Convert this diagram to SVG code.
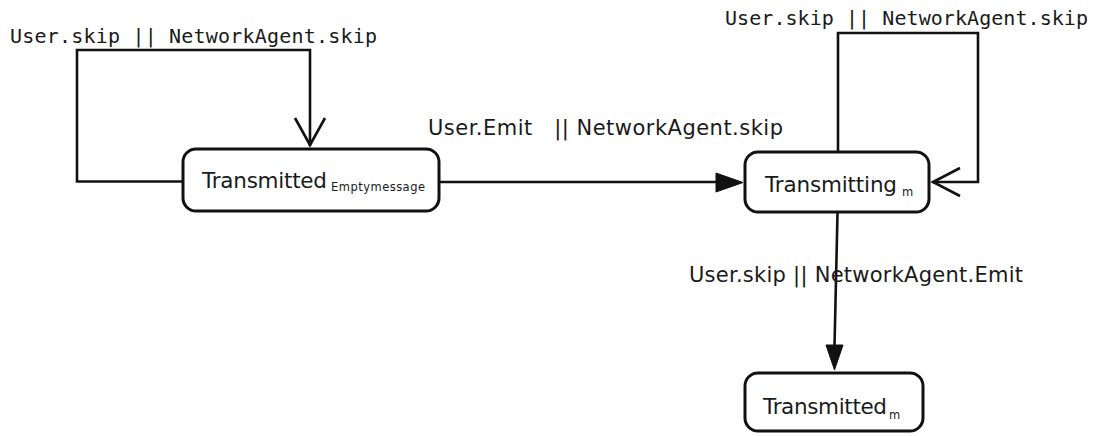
<svg xmlns="http://www.w3.org/2000/svg" width="1102" height="436" viewBox="0 0 1102 436">
  <defs>
    <style>
      .node { fill: #ffffff; stroke: #111111; stroke-width: 3; }
      .name { font-family: "DejaVu Sans", Verdana, sans-serif; font-size: 21.5px; fill: #1a1a1a; }
      .sub { font-family: "DejaVu Sans", Verdana, sans-serif; font-size: 11.5px; fill: #1a1a1a; }
      .edge { fill: none; stroke: #111111; stroke-width: 2.6; }
      .mono { font-family: "DejaVu Sans Mono", "Liberation Mono", monospace; font-size: 20px; fill: #1a1a1a; }
      .lbl { font-family: "DejaVu Sans", Verdana, sans-serif; font-size: 21px; fill: #1a1a1a; }
      .open { fill: none; stroke: #111111; stroke-width: 2.6; stroke-linejoin: miter; }
      .solid { fill: #111111; stroke: #111111; stroke-width: 1; }
    </style>
  </defs>
  <rect width="1102" height="436" fill="#ffffff"/>

  <!-- transitions -->
  <g id="connectors">
    <!-- self loop on Transmitted(Emptymessage) -->
    <path class="edge" d="M183 181.5 H77 V50 H310 V146"/>
    <path class="open" d="M295 118 L310 145 L325 118"/>
    <text class="mono" x="10" y="43" textLength="367">User.skip || NetworkAgent.skip</text>

    <!-- Transmitted(Emptymessage) -> Transmitting(m) -->
    <path class="edge" d="M439 182 H718"/>
    <polygon class="solid" points="716,173 743,182.5 716,192"/>
    <text class="lbl" x="428" y="135" xml:space="preserve" textLength="355">User.Emit   || NetworkAgent.skip</text>

    <!-- self loop on Transmitting(m) -->
    <path class="edge" d="M838 152 V33 H978 V182 H932"/>
    <path class="open" d="M960 168 L933 182 L960 196"/>
    <text class="mono" x="725" y="25" textLength="363">User.skip || NetworkAgent.skip</text>

    <!-- Transmitting(m) -> Transmitted(m) -->
    <path class="edge" d="M837.5 213 L834.5 347"/>
    <polygon class="solid" points="826,345 843,345 834.5,370"/>
    <text class="lbl" x="689" y="282" textLength="334">User.skip || NetworkAgent.Emit</text>
  </g>

  <!-- states -->
  <g id="transmitted-empty">
    <rect class="node" x="183" y="149" width="256" height="62" rx="13" ry="13"/>
    <text class="name" x="202" y="188" textLength="125">Transmitted</text>
    <text class="sub" x="331" y="191" textLength="94">Emptymessage</text>
  </g>

  <g id="transmitting-m">
    <rect class="node" x="745" y="152" width="184" height="60" rx="13" ry="13"/>
    <text class="name" x="765" y="192" textLength="132">Transmitting</text>
    <text class="sub" x="902" y="196">m</text>
  </g>

  <g id="transmitted-m">
    <rect class="node" x="745" y="373" width="178" height="58" rx="13" ry="13"/>
    <text class="name" x="763" y="414" textLength="124">Transmitted</text>
    <text class="sub" x="889" y="419">m</text>
  </g>
</svg>
